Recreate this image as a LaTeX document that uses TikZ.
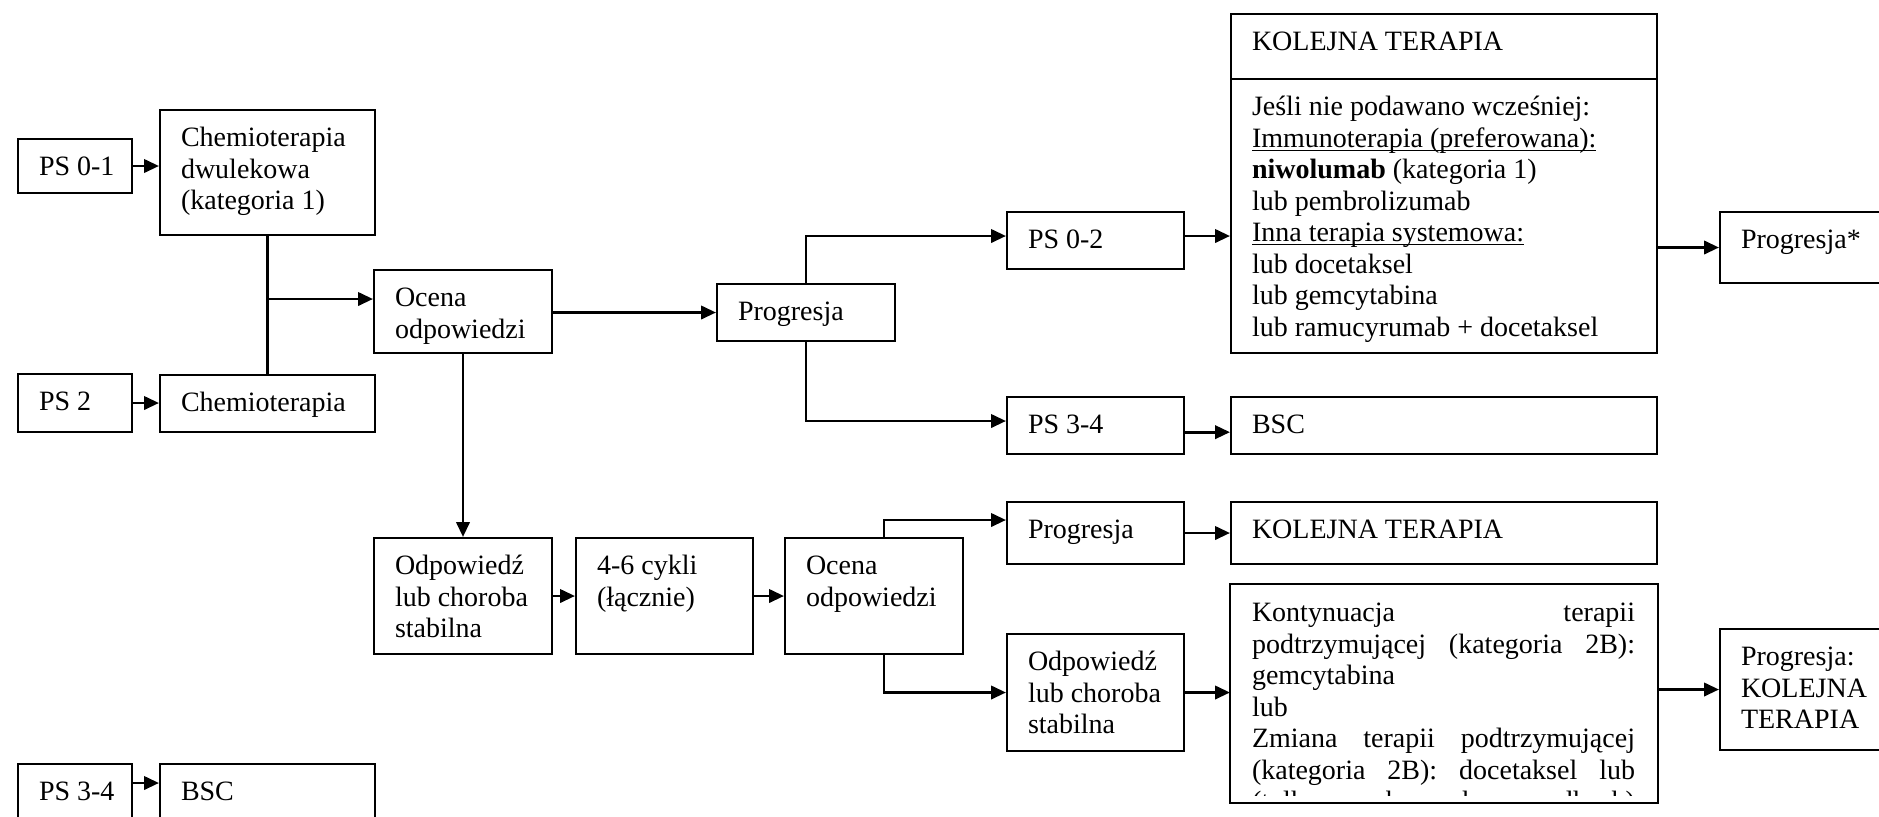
\documentclass[tikz,border=0pt]{standalone}
\usepackage{fontspec}
\setmainfont{Liberation Serif}
\usetikzlibrary{arrows.meta}

\newdimen\px
\px=0.6pt
% pole tekstowe: szerokosc, wysokosc (w px), tekst od gory
\newcommand{\pole}[3]{\parbox[t][#2\px][t]{#1\px}{\leftskip=21\px\rightskip=4\px plus 1fil\rule{0pt}{22pt}#3}}
\newcommand{\polerowno}[3]{\parbox[t][#2\px][t]{#1\px}{\leftskip=21\px\rightskip=22\px plus 1fil\rule{0pt}{22pt}#3}}
\newsavebox\podkreslbox
\newcommand{\podkresl}[1]{\sbox\podkreslbox{#1}\rlap{\rule[-2.2pt]{\wd\podkreslbox}{0.8pt}}\usebox\podkreslbox}

\tikzset{
  pudlo/.style={draw, line width=1.2pt, inner sep=0pt, anchor=north west,
    font=\fontsize{16.8pt}{18.9pt}\selectfont},
  linia/.style={line width=1.7pt},
  strzalka/.style={line width=1.7pt, -{Triangle[length=9pt,width=8pt]}}
}

\begin{document}
\begin{tikzpicture}[x=0.6pt, y=-0.6pt]

      \fill[white] (0,0) rectangle (1879,816);
      \useasboundingbox (0,0) rectangle (1879,816);

      \begin{scope}[every node/.style={pudlo}]
        \node (ps01)   at (17,138)  {\pole{114}{54}{PS 0-1}};
        \node (chem2)  at (159,109) {\pole{215}{125}{Chemioterapia\\dwulekowa\\(kategoria 1)}};
        \node (ps2)    at (17,373)  {\pole{114}{58}{PS 2}};
        \node (chem)   at (159,374) {\pole{215}{57}{Chemioterapia}};
        \node (ps34a)  at (17,763)  {\pole{114}{70}{PS 3-4}};
        \node (bsca)   at (159,763) {\pole{215}{70}{BSC}};
        \node (ocena)  at (373,269) {\pole{178}{83}{Ocena\\odpowiedzi}};
        \node (prog)   at (716,283) {\pole{178}{57}{Progresja}};
        \node (ps02)   at (1006,211) {\pole{177}{57}{PS 0-2}};
        \node (ps34b)  at (1006,396) {\pole{177}{57}{PS 3-4}};
        \node (kolhead) at (1230,13) {\pole{426}{65}{KOLEJNA TERAPIA}};
        \node (kolbody) at (1230,78) {\pole{426}{274}{Jeśli nie podawano wcześniej:\\
          \podkresl{Immunoterapia (preferowana):}\\
          \textbf{niwolumab} (kategoria 1)\\
          lub pembrolizumab\\
          \podkresl{Inna terapia systemowa:}\\
          lub docetaksel\\
          lub gemcytabina\\
          lub ramucyrumab + docetaksel}};
        \node (bscb)   at (1230,396) {\pole{426}{57}{BSC}};
        \node (progstar) at (1719,211) {\pole{200}{71}{Progresja*}};
        \node (odp)    at (373,537) {\pole{178}{116}{Odpowiedź\\lub choroba\\stabilna}};
        \node (cykle)  at (575,537) {\pole{177}{116}{4-6 cykli\\(łącznie)}};
        \node (ocena2) at (784,537) {\pole{178}{116}{Ocena\\odpowiedzi}};
        \node (prog2)  at (1006,501) {\pole{177}{62}{Progresja}};
        \node (kol2)   at (1230,501) {\pole{426}{62}{KOLEJNA TERAPIA}};
        \node (odp2)   at (1006,633) {\pole{177}{117}{Odpowiedź\\lub choroba\\stabilna}};
        \node (progkol) at (1719,628) {\pole{200}{121}{Progresja:\\KOLEJNA\\TERAPIA}};
      \end{scope}

      % tekst wychodzi poza ramke - przyciety
      \begin{scope}
        \clip (1228,582) rectangle (1658,795);
        \node[pudlo, draw=none] (kont) at (1230,584) {\polerowno{426}{217}{Kontynuacja\hfill terapii\\
          podtrzymującej\hfill (kategoria\hfill 2B):\\
          gemcytabina\\
          lub\\
          Zmiana\hfill terapii\hfill podtrzymującej\\
          (kategoria\hfill 2B):\hfill docetaksel\hfill lub\\
          (tylko w wybranych przypadkach)}};
      \end{scope}
      \draw[line width=1.2pt] (kont.south west) rectangle (kont.north east);

      \coordinate (wezel) at (266.5,299);

      \draw[linia] (chem2) -- (chem);
      \draw[strzalka] (wezel) -- (wezel -| ocena.west);
      \draw[strzalka] (ps01.east) -- (ps01.east -| chem2.west);
      \draw[strzalka] (ps2.east) -- (ps2.east -| chem.west);
      \draw[strzalka] ([yshift=-12pt]ps34a.north east) -- ([yshift=-12pt]ps34a.north east -| bsca.west);
      \draw[strzalka] (ocena.east |- prog.west) -- (prog.west);
      \draw[strzalka] (prog.north) |- ([yshift=2.7pt]ps02.west);
      \draw[strzalka] (prog.south) |- ([yshift=2.7pt]ps34b.west);
      \draw[strzalka] ([yshift=2.7pt]ps02.east) -- ([yshift=2.7pt]ps02.east -| kolbody.west);
      \draw[strzalka] ([yshift=-4pt]ps34b.east) -- ([yshift=-4pt]ps34b.east -| bscb.west);
      \draw[strzalka] (progstar.west -| kolbody.east) -- (progstar.west);
      \draw[strzalka] (ocena) -- (odp);
      \draw[strzalka] (odp) -- (cykle);
      \draw[strzalka] (cykle) -- (ocena2);
      \draw[strzalka] ([xshift=6pt]ocena2.north) |- ([yshift=7.8pt]prog2.west);
      \draw[strzalka] ([xshift=6pt]ocena2.south) |- (odp2.west);
      \draw[strzalka] (prog2) -- (kol2);
      \draw[strzalka] (odp2) -- (odp2.east -| kont.west);
      \draw[strzalka] (kont.east |- progkol.west) -- (progkol.west);

\end{tikzpicture}
\end{document}
